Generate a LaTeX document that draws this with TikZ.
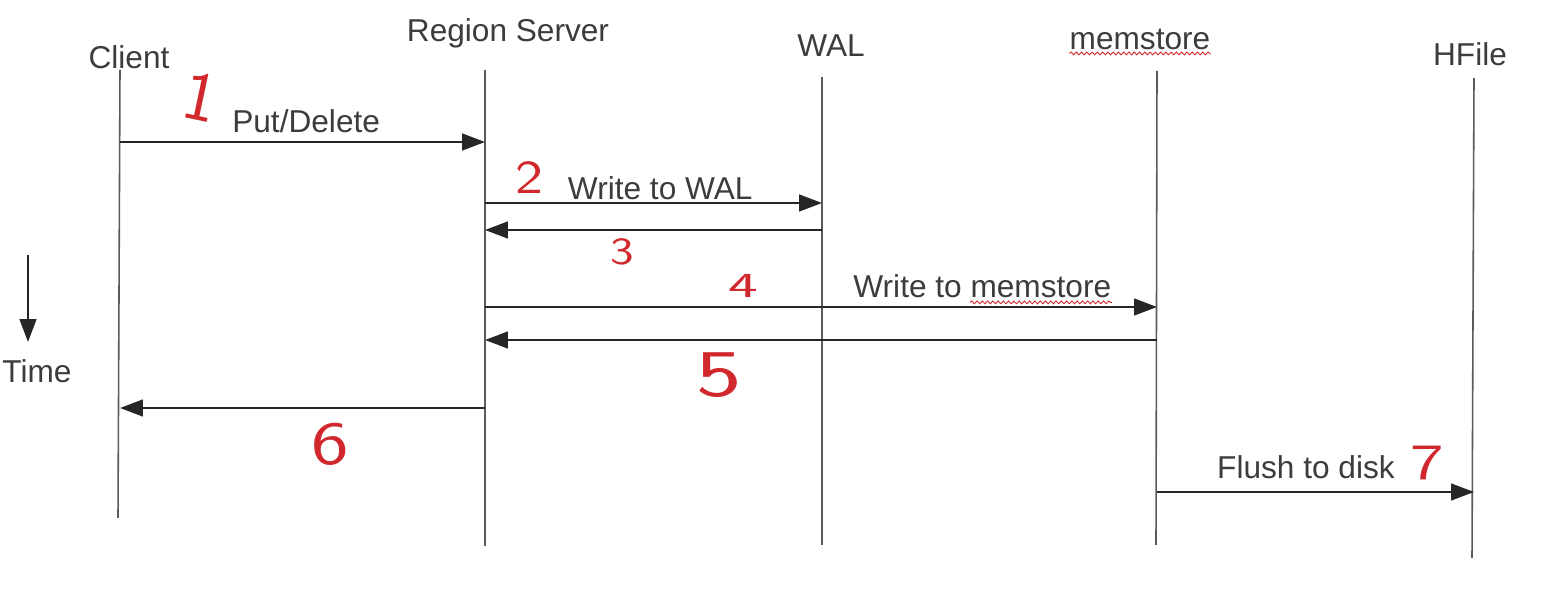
\documentclass[tikz,border=0pt]{standalone}
\usepackage{fontspec}
\setmainfont{Liberation Sans}
\usetikzlibrary{positioning,arrows.meta,decorations.pathmorphing}

\definecolor{inkgray}{HTML}{3C3C3C}
\definecolor{linegray}{HTML}{5A5A5A}
\definecolor{penred}{HTML}{D0282C}

\begin{document}
\begin{tikzpicture}[x=0.02cm,y=-0.02cm,>={Triangle[length=13pt,width=9.5pt]},
                    font=\fontsize{18}{21}\selectfont, text=inkgray]
\tikzset{
  actor/.style={inner sep=2pt},
  lifeline/.style={draw=linegray, line width=0.9pt},
  msg/.style={->, draw=black!85, line width=1.2pt},
  msglabel/.style={anchor=base, inner sep=0pt},
  spellwave/.style={draw=penred, line width=0.5pt, decorate,
                    decoration={snake, amplitude=0.8pt, segment length=3pt}},
  stepnum/.style={text=penred, inner sep=0pt, transform shape,
                  font=\sffamily\fontsize{#1}{#1}\selectfont}
}

\useasboundingbox (0,0) rectangle (1560,594);

% participants
\node[actor] (client) at (129,57)  {Client};
\node[actor] (rs)     at (508,33)  {Region Server};
\node[actor] (wal)    at (831,46)  {WAL};
\node[actor] (mem)    at (1140,39) {memstore};
\node[actor] (hfile)  at (1470,54) {HFile};
\draw[spellwave] ([yshift=-2.5pt]mem.base west) ++(2pt,0) -- ([xshift=-2pt,yshift=-2.5pt]mem.base east);

% lifelines
\coordinate (clTop)  at (120,70);  \coordinate (clEnd)  at (118,518);
\coordinate (rsTop)  at (485,70);  \coordinate (rsEnd)  at (485,546);
\coordinate (walTop) at (822,77);  \coordinate (walEnd) at (822,545);
\coordinate (memTop) at (1157,71); \coordinate (memEnd) at (1156,545);
\coordinate (hfTop)  at (1474,78); \coordinate (hfEnd)  at (1472,558);
\foreach \n in {cl,rs,wal,mem,hf}
  \draw[lifeline] (\n Top) -- (\n End);

% message ends
\foreach \i/\from/\to/\y in {1/cl/rs/142, 2/rs/wal/203, 3/wal/rs/230, 4/rs/mem/307,
                             5/mem/rs/340, 6/rs/cl/408, 7/mem/hf/492} {
  \coordinate (s\i) at (\from Top |- 0,\y);
  \coordinate (e\i) at (\to Top |- 0,\y);
}

\draw[msg] (s1) -- node[msglabel, pos=.51, yshift=0.18cm] (lbl1) {Put/Delete} (e1);
\draw[msg] (s2) -- node[msglabel, pos=.52, yshift=0.06cm] (lbl2) {Write to WAL} (e2);
\draw[msg] (s3) -- (e3);
\draw[msg] (s4) -- node[msglabel, pos=.74, yshift=0.18cm] (lbl4) {Write to memstore} (e4);
\draw[msg] (s5) -- (e5);
\draw[msg] (s6) -- (e6);
\draw[msg] (s7) -- node[msglabel, pos=.47, yshift=0.28cm] (lbl7) {Flush to disk} (e7);
\draw[spellwave] ([xshift=67pt,yshift=-2.5pt]lbl4.base west) -- ([yshift=-2.5pt]lbl4.base east);

% time axis
\node (time) at (37,371) {Time};
\coordinate (timeTop) at (28,255);
\coordinate (timeEnd) at (28,342);
\draw[msg] (timeTop) -- (timeEnd);

% handwritten step numbers
\node[stepnum=40, rotate=-12] (n1) at (201,97) {1};
\node[stepnum=27, xscale=1.25] (n2) at (529,178)  {2};
\node[stepnum=22, xscale=1.3]  (n3) at (622,252)  {3};
\node[stepnum=20, xscale=1.8]  (n4) at (743,286)  {4};
\node[stepnum=38, xscale=1.45] (n5) at (719,375)  {5};
\node[stepnum=35, xscale=1.3]  (n6) at (330,444)  {6};
\node[stepnum=29, xscale=1.4]  (n7) at (1427,463) {7};
\end{tikzpicture}
\end{document}
